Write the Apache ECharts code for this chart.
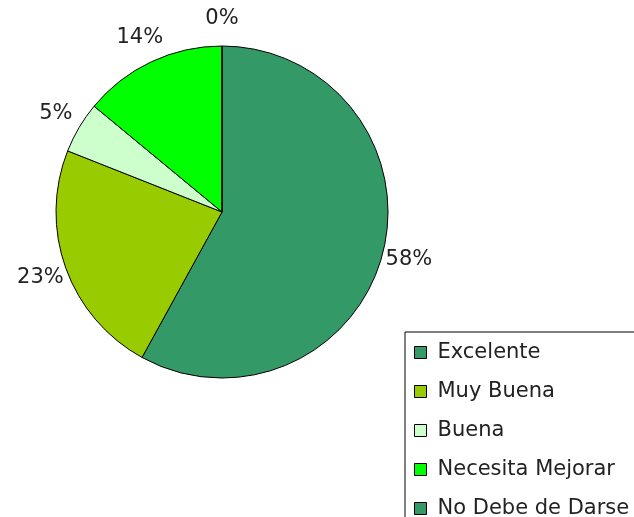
<!DOCTYPE html>
<html><head><meta charset="utf-8">
<script src="https://cdn.jsdelivr.net/npm/echarts@6/dist/echarts.min.js"></script>
<style>html,body{margin:0;padding:0;background:#fff;}#c{width:634px;height:517px;}</style>
</head><body><div id="c"></div>
<script>
const categories = ["Excelente", "Muy Buena", "Buena", "Necesita Mejorar", "No Debe de Darse"];
const values = [58, 23, 5, 14, 0];
const colors = ["#339966", "#99CC00", "#CCFFCC", "#00FF00", "#339966"];

const chart = echarts.init(document.getElementById('c'), null, {renderer: 'canvas'});
chart.setOption({
  animation: false,
  backgroundColor: '#fff',
  legend: {
    orient: 'vertical',
    left: 405, top: 332,
    height: 400,
    padding: [10, 20, 10, 9],
    itemGap: 18,
    itemWidth: 12, itemHeight: 12,
    icon: 'rect',
    borderColor: '#000', borderWidth: 1,
    backgroundColor: '#fff',
    itemStyle: {borderColor: '#000', borderWidth: 1},
    textStyle: {fontFamily: 'DejaVu Sans', fontSize: 21, color: '#222', lineHeight: 20, padding: [0, 0, 0, 6]},
    data: categories
  },
  series: [{
    type: 'pie',
    center: [222, 212],
    radius: 166,
    startAngle: 90,
    clockwise: true,
    itemStyle: {borderColor: '#000', borderWidth: 1},
    label: {show: false},
    labelLine: {show: false},
    emphasis: {disabled: true},
    data: categories.map((n, i) => ({name: n, value: values[i], itemStyle: {color: colors[i]}}))
  }, {
    type: 'pie',
    center: [222, 212],
    radius: 380,
    startAngle: 90,
    clockwise: true,
    silent: true,
    z: 1,
    avoidLabelOverlap: false,
    itemStyle: {color: 'rgba(0,0,0,0)', borderWidth: 0},
    label: {
      show: true, position: 'inside', rotate: 0,
      formatter: '{c}%',
      fontFamily: 'DejaVu Sans', fontSize: 21, color: '#222'
    },
    labelLine: {show: false},
    emphasis: {disabled: true},
    data: categories.map((n, i) => ({name: n, value: values[i]}))
  }]
});
</script></body></html>
